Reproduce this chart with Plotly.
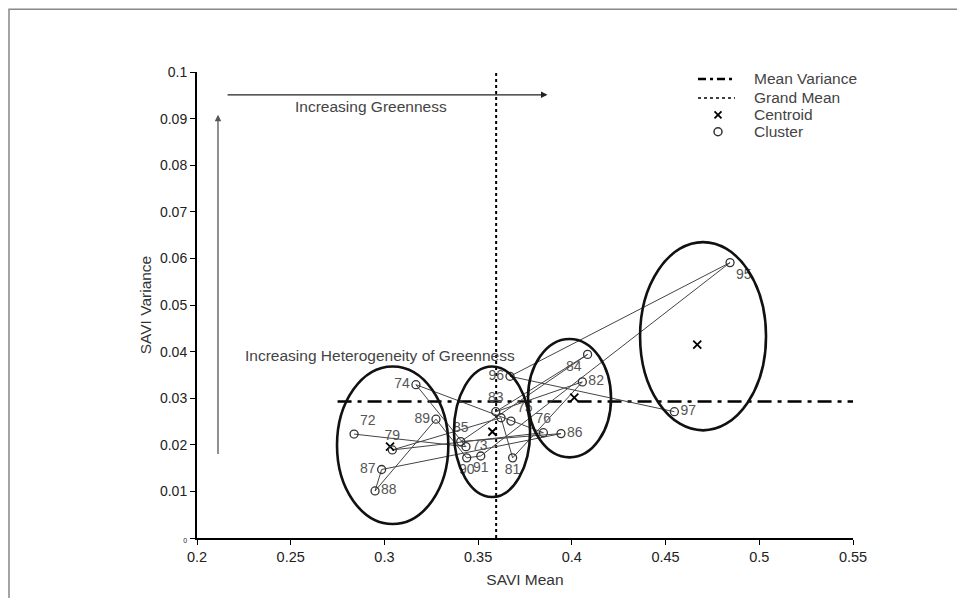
import plotly.graph_objects as go

# ---- data ----
years = ["72", "73", "74", "75", "76", "79", "80", "81", "82", "83", "84", "85",
         "86", "87", "88", "89", "90", "91", "95", "96", "97"]
savi_mean = [0.2838, 0.3435, 0.3168, 0.3675, 0.3848, 0.3042, 0.3622, 0.3684, 0.4056,
             0.3594, 0.4084, 0.3407, 0.3942, 0.2985, 0.2950, 0.3275, 0.3439, 0.3514,
             0.4844, 0.3670, 0.4547]
savi_var = [0.0223, 0.0196, 0.0329, 0.0251, 0.0226, 0.0189, 0.0258, 0.0172, 0.0335,
            0.0271, 0.0394, 0.0207, 0.0224, 0.0147, 0.0101, 0.0255, 0.0172, 0.0176,
            0.0591, 0.0347, 0.0271]
point_labels = ["72", "73", "74", "75", "76", "79", "", "81", "82", "83", "84", "85",
                "86", "87", "88", "89", "90", "91", "95", "96", "97"]

centroid_x = [0.3030, 0.3576, 0.4013, 0.4669]
centroid_y = [0.0196, 0.0228, 0.0301, 0.0415]

# cluster ellipses (x range, y range)
ell_x0 = [0.2747, 0.3371, 0.3766, 0.4364]
ell_x1 = [0.3341, 0.3777, 0.4209, 0.5036]
ell_y0 = [0.0030, 0.0088, 0.0173, 0.0231]
ell_y1 = [0.0368, 0.0368, 0.0427, 0.0635]

grand_mean = 0.3596
mean_variance = 0.0293
mean_var_start = 0.275

x_ticks = [0.2, 0.25, 0.3, 0.35, 0.4, 0.45, 0.5, 0.55]
x_tick_text = ["0.2", "0.25", "0.3", "0.35", "0.4", "0.45", "0.5", "0.55"]
y_ticks = [0, 0.01, 0.02, 0.03, 0.04, 0.05, 0.06, 0.07, 0.08, 0.09, 0.1]
y_tick_text = ["<span style='font-size:7px'>0</span>", "0.01", "0.02", "0.03", "0.04",
               "0.05", "0.06", "0.07", "0.08", "0.09", "0.1"]

legend_names = ["Mean Variance", "Grand Mean", "Centroid", "Cluster"]

# label placement (style)
label_pos = ["top right", "middle right", "middle left", "top right", "top center",
             "top center", "top center", "bottom center", "middle right", "top center",
             "bottom left", "top center", "middle right", "middle left", "middle right",
             "middle left", "bottom center", "bottom center", "bottom right", "middle left",
             "middle right"]

FONT = "Liberation Sans, Arial, sans-serif"

fig = go.Figure()

# mean variance line
fig.add_trace(go.Scatter(
    x=[mean_var_start, 0.55], y=[mean_variance, mean_variance], mode="lines",
    line=dict(color="black", width=2.5, dash="14px,6px,4px,6px"),
    name=legend_names[0], hoverinfo="skip", showlegend=False))

# grand mean line
fig.add_trace(go.Scatter(
    x=[grand_mean, grand_mean], y=[0, 0.1], mode="lines",
    line=dict(color="black", width=2, dash="dot"),
    name=legend_names[1], hoverinfo="skip", showlegend=False))

# trajectory
fig.add_trace(go.Scatter(
    x=savi_mean, y=savi_var, mode="lines",
    line=dict(color="#444", width=1), showlegend=False, hoverinfo="skip"))

# centroids
fig.add_trace(go.Scatter(
    x=centroid_x, y=centroid_y, mode="markers",
    marker=dict(symbol="x-thin-open", size=8, color="black",
                line=dict(color="black", width=1.8)),
    name=legend_names[2], showlegend=False))

# cluster members
fig.add_trace(go.Scatter(
    x=savi_mean, y=savi_var, mode="markers+text", text=point_labels,
    textposition=label_pos,
    textfont=dict(family=FONT, size=14, color="#555"),
    marker=dict(symbol="circle-open", size=8, color="#333", line=dict(width=1.3)),
    name=legend_names[3], showlegend=False))

# ---- legend (drawn on an overlay axis spanning the plot area, 0..1) ----
lg_x0, lg_x1, lg_xm, lg_xt = 0.7637, 0.8201, 0.7942, 0.846
lg_y = [0.985, 0.9444, 0.9081, 0.8718]
fig.add_trace(go.Scatter(x=[lg_x0, lg_x1], y=[lg_y[0]] * 2, mode="lines",
                         xaxis="x2", yaxis="y2", showlegend=False, hoverinfo="skip",
                         line=dict(color="black", width=2.5, dash="8px,4px,3px,4px")))
fig.add_trace(go.Scatter(x=[lg_x0, lg_x1], y=[lg_y[1]] * 2, mode="lines",
                         xaxis="x2", yaxis="y2", showlegend=False, hoverinfo="skip",
                         line=dict(color="black", width=1.5, dash="dot")))
fig.add_trace(go.Scatter(x=[lg_xm], y=[lg_y[2]], mode="markers",
                         xaxis="x2", yaxis="y2", showlegend=False, hoverinfo="skip",
                         marker=dict(symbol="x-thin-open", size=7, color="black",
                                     line=dict(color="black", width=1.8))))
fig.add_trace(go.Scatter(x=[lg_xm], y=[lg_y[3]], mode="markers",
                         xaxis="x2", yaxis="y2", showlegend=False, hoverinfo="skip",
                         marker=dict(symbol="circle-open", size=8, color="#333",
                                     line=dict(width=1.5))))
for name, yy in zip(legend_names, lg_y):
    fig.add_annotation(x=lg_xt, y=yy, xref="paper", yref="paper", text=name,
                       showarrow=False, xanchor="left", yanchor="middle",
                       font=dict(family=FONT, size=15.5, color="#444"))

# ellipses
for a, b, c, d in zip(ell_x0, ell_x1, ell_y0, ell_y1):
    fig.add_shape(type="circle", xref="x", yref="y", x0=a, x1=b, y0=c, y1=d,
                  line=dict(color="#111", width=2.6), layer="above")

# outer frame
fig.add_shape(type="rect", xref="paper", yref="paper",
              x0=-0.2866, x1=1.166, y0=-0.2, y1=1.1346,
              line=dict(color="#888", width=1.5))

# arrows
fig.add_annotation(x=0.387, y=0.0951, ax=0.2155, ay=0.0951, xref="x", yref="y",
                   axref="x", ayref="y", showarrow=True, arrowhead=2, arrowsize=1,
                   arrowwidth=1.3, arrowcolor="#222", text="")
fig.add_annotation(x=0.2112, y=0.0908, ax=0.2112, ay=0.0177, xref="x", yref="y",
                   axref="x", ayref="y", showarrow=True, arrowhead=2, arrowsize=1,
                   arrowwidth=1.3, arrowcolor="#555", text="")

fig.add_annotation(x=0.2928, y=0.0925, xref="x", yref="y", text="Increasing Greenness",
                   showarrow=False, font=dict(family=FONT, size=15.5, color="#444"))
fig.add_annotation(x=0.2976, y=0.0391, xref="x", yref="y",
                   text="Increasing Heterogeneity of Greenness",
                   showarrow=False, font=dict(family=FONT, size=15.5, color="#444"))

fig.update_layout(
    width=957, height=590,
    margin=dict(l=189, r=112, t=64, b=58),
    paper_bgcolor="white", plot_bgcolor="white",
    font=dict(family=FONT, size=14, color="#222"),
    showlegend=False,
    xaxis=dict(range=[0.2, 0.55], tickvals=x_ticks, ticktext=x_tick_text,
               showgrid=False, zeroline=False, showline=True, linecolor="black",
               linewidth=2, ticks="outside", ticklen=5, tickcolor="black",
               tickfont=dict(size=14.5, color="#222"),
               title=dict(text="SAVI Mean", font=dict(size=15.5, color="#333"), standoff=10)),
    yaxis=dict(range=[0, 0.1], tickvals=y_ticks, ticktext=y_tick_text,
               showgrid=False, zeroline=False, showline=True, linecolor="black",
               linewidth=2, ticks="outside", ticklen=5, tickcolor="black",
               tickfont=dict(size=14, color="#222"),
               title=dict(text="SAVI Variance", font=dict(size=15.5, color="#333"), standoff=5)),
    xaxis2=dict(overlaying="x", range=[0, 1], visible=False),
    yaxis2=dict(overlaying="y", range=[0, 1], visible=False),
)

fig.write_html("out.html")
